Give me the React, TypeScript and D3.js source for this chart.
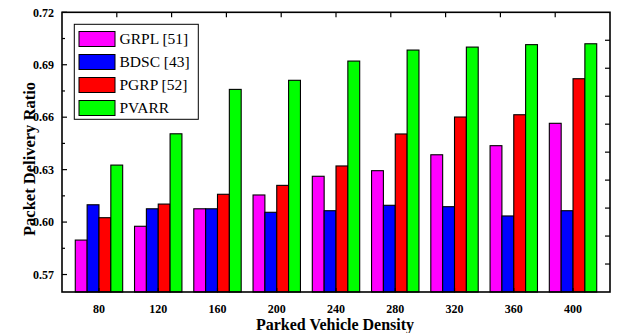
import React from "react";
import * as d3 from "d3";

const categories = ["80", "120", "160", "200", "240", "280", "320", "360", "400"];
const seriesNames = ["GRPL [51]", "BDSC [43]", "PGRP [52]", "PVARR"];
const grpl = [0.5897, 0.5976, 0.6076, 0.6155, 0.6262, 0.6294, 0.6385, 0.6437, 0.6565];
const bdsc = [0.6099, 0.6076, 0.6076, 0.6056, 0.6065, 0.6096, 0.6088, 0.6035, 0.6065];
const pgrp = [0.6025, 0.6103, 0.6159, 0.6210, 0.6321, 0.6504, 0.6601, 0.6614, 0.6820];
const pvarr = [0.6326, 0.6505, 0.6759, 0.6811, 0.6921, 0.6984, 0.7001, 0.7015, 0.7020];
const yTicks = [0.57, 0.6, 0.63, 0.66, 0.69, 0.72];
const colors = ["#FF00FF", "#0000FF", "#FF0000", "#00FF00"];

const W = 618;
const H = 333;
const L = 62;
const R = 610;
const T = 12.3;
const B = 292;
const FONT = "Liberation Serif, Times New Roman, Times, serif";

export default function App() {
  const values = [grpl, bdsc, pgrp, pvarr];
  const x0 = d3
    .scaleBand<string>()
    .domain(categories)
    .range([L, R])
    .paddingInner(0.2)
    .paddingOuter(0.224);
  const x1 = d3
    .scaleBand<number>()
    .domain([0, 1, 2, 3])
    .range([0, x0.bandwidth()]);
  const y = d3.scaleLinear().domain([0.56, 0.72]).range([B, T]);
  const fmt = d3.format(".2f");
  const minorTicks = d3.range(0, 10).map((i) => 0.585 + i * 0.03).filter((v) => v < 0.72);
  const frac = d3.range(1, 10).map((i) => i / 10);

  return (
    <svg
      width={W}
      height={H}
      style={{ position: "absolute", left: 0, top: 0, background: "#fff", fontFamily: FONT }}
    >
      {categories.map((c, ci) => (
        <g key={c} transform={`translate(${x0(c)},0)`}>
          {values.map((vals, si) => (
            <rect
              key={si}
              x={x1(si)}
              y={y(vals[ci])}
              width={x1.bandwidth()}
              height={B - y(vals[ci])}
              fill={colors[si]}
              stroke="#000"
              strokeWidth={1.1}
            />
          ))}
        </g>
      ))}

      <rect x={L} y={T} width={R - L} height={B - T} fill="none" stroke="#000" strokeWidth={1.6} />

      {yTicks.map((t) => (
        <g key={t}>
          <line x1={L} x2={L + 5} y1={y(t)} y2={y(t)} stroke="#000" strokeWidth={1.2} />
          <text x={54} y={y(t)} dy="0.35em" textAnchor="end" fontSize={12} fontWeight="bold">
            {fmt(t)}
          </text>
        </g>
      ))}
      {minorTicks.map((t) => (
        <line key={t} x1={L} x2={L + 3} y1={y(t)} y2={y(t)} stroke="#000" strokeWidth={1.2} />
      ))}

      {frac.map((f) => (
        <line key={f} x1={R} x2={R - 5} y1={B - f * (B - T)} y2={B - f * (B - T)} stroke="#000" strokeWidth={1.2} />
      ))}
      {frac.map((f) => (
        <line key={f} x1={L + f * (R - L)} x2={L + f * (R - L)} y1={T} y2={T + 5} stroke="#000" strokeWidth={1.2} />
      ))}

      {categories.map((c) => {
        const cx = (x0(c) as number) + x0.bandwidth() / 2;
        return (
          <g key={c}>
            <line x1={cx} x2={cx} y1={B} y2={B - 4} stroke="#000" strokeWidth={1.2} />
            <text x={cx} y={313} textAnchor="middle" fontSize={12} fontWeight="bold">
              {c}
            </text>
          </g>
        );
      })}

      <text x={335} y={329.5} textAnchor="middle" fontSize={16} fontWeight="bold">
        Parked Vehicle Density
      </text>
      <text
        transform={`translate(34.5,159) rotate(-90)`}
        textAnchor="middle"
        fontSize={16.5}
        fontWeight="bold"
      >
        Packet Delivery Ratio
      </text>

      <rect x={74.3} y={24.3} width={124} height={95} fill="#fff" stroke="#000" strokeWidth={1} />
      {seriesNames.map((s, i) => {
        const cy = 39 + i * 23;
        return (
          <g key={s}>
            <rect x={79} y={cy - 7.5} width={36} height={15} fill={colors[i]} stroke="#000" strokeWidth={1} />
            <text x={119.5} y={cy} dy="0.35em" fontSize={15.5}>
              {s}
            </text>
          </g>
        );
      })}
    </svg>
  );
}
